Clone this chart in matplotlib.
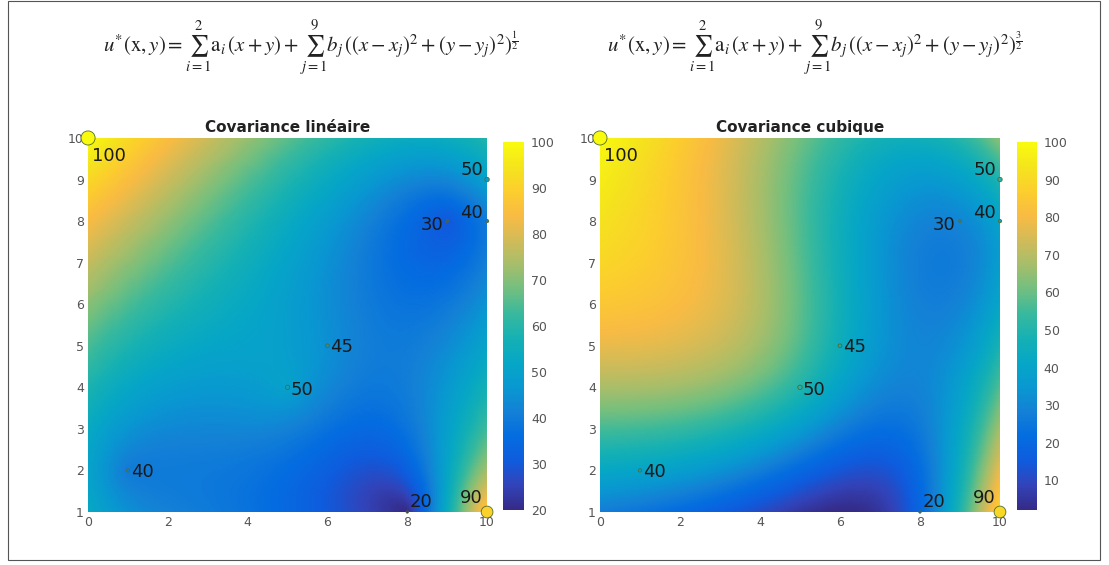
import numpy as np
import matplotlib.pyplot as plt
from matplotlib.colors import LinearSegmentedColormap
from matplotlib.patches import Rectangle

# data points (x, y, value)
px = [0, 10, 10, 9, 6, 5, 1, 8, 10]
py = [10, 9, 8, 8, 5, 4, 2, 1, 1]
pv = [100, 50, 40, 30, 45, 50, 40, 20, 90]

titles = ['Covariance linéaire', 'Covariance cubique']
powers = [1, 3]
exps = [r'\frac{1}{2}', r'\frac{3}{2}']

# approximate MATLAB parula
parula = LinearSegmentedColormap.from_list('parula', [
    (0.2081, 0.1663, 0.5292), (0.1959, 0.2645, 0.7279), (0.0592, 0.3598, 0.8683),
    (0.0165, 0.4266, 0.8786), (0.0779, 0.5040, 0.8384), (0.0343, 0.5966, 0.8199),
    (0.0228, 0.6535, 0.7768), (0.0843, 0.6928, 0.7062), (0.2178, 0.7250, 0.6193),
    (0.4420, 0.7481, 0.5033), (0.6473, 0.7456, 0.4188), (0.8185, 0.7327, 0.3498),
    (0.9739, 0.7314, 0.2666), (0.9880, 0.8066, 0.1794), (0.9589, 0.8949, 0.1132),
    (0.9763, 0.9831, 0.0538)])

plt.rcParams['mathtext.fontset'] = 'stix'


def dual_kriging(x, y, p):
    # u* = sum b_j * r_j^p, weights solved so the field passes through the data
    X = np.array(px, float)
    Y = np.array(py, float)
    K = np.hypot(X[:, None] - X[None, :], Y[:, None] - Y[None, :]) ** p
    b = np.linalg.solve(K, np.array(pv, float))
    d = np.hypot(x[..., None] - X, y[..., None] - Y) ** p
    return d @ b


gx, gy = np.meshgrid(np.linspace(0, 10, 201), np.linspace(1, 10, 181))

fig = plt.figure(figsize=(11.09, 5.65), dpi=100)
fig.patches.append(Rectangle((0.007, 0.009), 0.985, 0.99, transform=fig.transFigure,
                             fill=False, edgecolor='#555555', linewidth=0.8))

ax_pos = [[0.0794, 0.0938, 0.3598, 0.662], [0.541, 0.0938, 0.3607, 0.662]]
cb_pos = [[0.4536, 0.0973, 0.019, 0.651], [0.917, 0.0973, 0.018, 0.651]]
fx = [0.28, 0.735]

# label offsets in points
offs = [(3, -13, 'left'), (-3, 7, 'right'), (-3, 6, 'right'), (-3, -3, 'right'),
        (2, -1, 'left'), (2, -2, 'left'), (2, -1, 'left'), (2, 7, 'left'), (-3, 10, 'right')]

for k in range(2):
    ax = fig.add_axes(ax_pos[k])
    z = dual_kriging(gx, gy, powers[k])
    vmin, vmax = z.min(), z.max()
    mesh = ax.pcolormesh(gx, gy, z, cmap=parula, vmin=vmin, vmax=vmax, shading='gouraud')
    sizes = [((v - 15) / 85) ** 3 * 100 + 3 for v in pv]
    ax.scatter(px, py, s=sizes, c=pv, cmap=parula, vmin=vmin, vmax=vmax,
               edgecolors='#556b2f', linewidths=0.6, clip_on=False, zorder=3)
    for xi, yi, vi, (dx, dy, ha) in zip(px, py, pv, offs):
        ax.annotate(str(vi), (xi, yi), xytext=(dx, dy), textcoords='offset points',
                    ha=ha, va='center', fontsize=13, color='#1a1a1a', zorder=4)
    ax.set_xlim(0, 10)
    ax.set_ylim(1, 10)
    ax.set_xticks(range(0, 11, 2))
    ax.set_yticks(range(1, 11))
    ax.tick_params(length=0, labelsize=9, labelcolor='#555555', pad=3)
    for s in ax.spines.values():
        s.set_visible(False)
    ax.set_title(titles[k], fontsize=11, fontweight='bold', color='#222222', pad=4)

    cax = fig.add_axes(cb_pos[k])
    cb = fig.colorbar(mesh, cax=cax)
    cb.set_ticks(range(10 if k else 20, 101, 10))
    cb.outline.set_visible(False)
    cax.tick_params(length=0, labelsize=9, labelcolor='#555555', pad=5)

    fig.text(fx[k], 0.915,
             r'$u^{*}(\mathrm{x},y)=\sum_{i=1}^{2}\mathrm{a}_i\,(x+y)+\sum_{j=1}^{9}b_j\,((x-x_j)^2+(y-y_j)^2)^{%s}$' % exps[k],
             ha='center', va='center', fontsize=15, color='#222222')

fig.savefig('out.png', dpi=100)
